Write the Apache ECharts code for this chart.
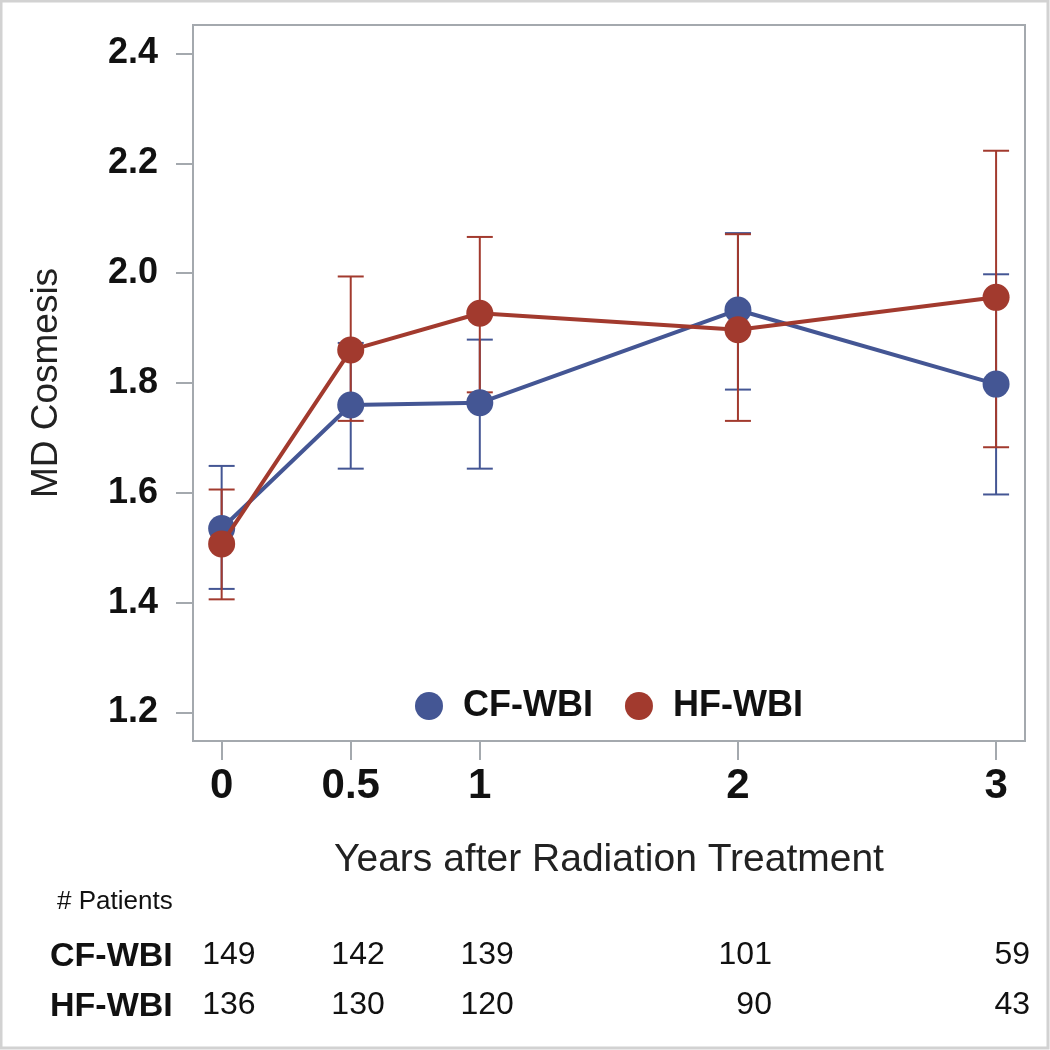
<!DOCTYPE html>
<html>
<head>
<meta charset="utf-8">
<script src="https://cdn.jsdelivr.net/npm/echarts@6/dist/echarts.min.js"></script>
<style>
html,body{margin:0;padding:0;background:#fff;}
#c{width:1050px;height:1050px;}
</style>
</head>
<body>
<div id="c"></div>
<script>
const years = [0, 0.5, 1, 2, 3];
const yTicks = [1.2, 1.4, 1.6, 1.8, 2.0, 2.2, 2.4];
const seriesNames = ['CF-WBI', 'HF-WBI'];
const cfMean = [1.535, 1.760, 1.764, 1.933, 1.798];
const cfLow  = [1.425, 1.644, 1.644, 1.788, 1.597];
const cfHigh = [1.649, 1.873, 1.879, 2.073, 1.998];
const hfMean = [1.507, 1.860, 1.927, 1.897, 1.956];
const hfLow  = [1.406, 1.731, 1.783, 1.731, 1.683];
const hfHigh = [1.606, 1.994, 2.066, 2.071, 2.223];
const cfN = [149, 142, 139, 101, 59];
const hfN = [136, 130, 120, 90, 43];

const BLUE = '#445694', RED = '#A23A2E', FRAME = '#a4a9ae';
const FONT = "'Liberation Sans', Arial, sans-serif";
const XMIN = -0.111, XMAX = 3.112;

const chart = echarts.init(document.getElementById('c'), null, {renderer: 'canvas'});

function errData(low, high) { return years.map((x, i) => [x, low[i], high[i]]); }
function errRender(color) {
  return function (params, api) {
    const x = api.value(0);
    const lo = api.coord([x, api.value(1)]);
    const hi = api.coord([x, api.value(2)]);
    const hw = 13;
    const st = {stroke: color, lineWidth: 2};
    return {type: 'group', children: [
      {type: 'line', shape: {x1: lo[0], y1: lo[1], x2: hi[0], y2: hi[1]}, style: st},
      {type: 'line', shape: {x1: lo[0]-hw, y1: lo[1], x2: lo[0]+hw, y2: lo[1]}, style: st},
      {type: 'line', shape: {x1: hi[0]-hw, y1: hi[1], x2: hi[0]+hw, y2: hi[1]}, style: st}
    ]};
  };
}
function countSeries(counts, gi) {
  return {
    type: 'scatter', xAxisIndex: gi, yAxisIndex: gi, symbolSize: 0,
    itemStyle: {color: '#ffffff', opacity: 1}, silent: true,
    data: years.map((x, i) => [x, 0, counts[i]]),
    label: {show: true, position: 'inside', align: 'right', verticalAlign: 'middle', offset: [34, 0],
      formatter: p => String(p.value[2]), color: '#111111', opacity: 1,
      textBorderWidth: 0, fontFamily: FONT, fontSize: 32}
  };
}
const hiddenX = gi => ({gridIndex: gi, type: 'value', min: XMIN, max: XMAX, show: false});
const hiddenY = gi => ({gridIndex: gi, type: 'value', min: -1, max: 1, show: false});

const option = {
  backgroundColor: '#fff',
  animation: false,
  textStyle: {fontFamily: FONT},
  grid: [
    {left: 193, right: 25, top: 25, bottom: 309, show: true, borderColor: FRAME, borderWidth: 2, backgroundColor: '#fff'},
    {left: 193, right: 25, top: 935, height: 40},
    {left: 193, right: 25, top: 985, height: 40}
  ],
  legend: {
    data: seriesNames, left: 410, top: 683, icon: 'circle', itemWidth: 28, itemHeight: 28, itemGap: 32,
    textStyle: {fontFamily: FONT, fontWeight: 'bold', fontSize: 36, color: '#111', padding: [0, 0, 0, 15]}
  },
  xAxis: [{
    gridIndex: 0, type: 'value', min: XMIN, max: XMAX,
    name: 'Years after Radiation Treatment', nameLocation: 'middle', nameGap: 100,
    nameTextStyle: {fontFamily: FONT, fontSize: 39, color: '#222'},
    axisLine: {show: true, onZero: false, lineStyle: {color: FRAME, width: 2}},
    splitLine: {show: false},
    axisTick: {show: true, length: 19, lineStyle: {color: FRAME, width: 2}, customValues: years},
    axisLabel: {customValues: years, margin: 24, fontFamily: FONT, fontWeight: 'bold', fontSize: 42, color: '#111',
      formatter: v => String(v)}
  }, hiddenX(1), hiddenX(2)],
  yAxis: [{
    gridIndex: 0, type: 'value', min: 1.148, max: 2.452,
    name: 'MD Cosmesis', nameLocation: 'middle', nameGap: 128,
    nameTextStyle: {fontFamily: FONT, fontSize: 37, color: '#222'},
    axisLine: {show: true, onZero: false, lineStyle: {color: FRAME, width: 2}},
    splitLine: {show: false},
    axisTick: {show: true, length: 17, lineStyle: {color: FRAME, width: 2}, customValues: yTicks},
    axisLabel: {customValues: yTicks, margin: 35, fontFamily: FONT, fontWeight: 'bold', fontSize: 36, color: '#111',
      formatter: v => v.toFixed(1)}
  }, hiddenY(1), hiddenY(2)],
  graphic: [
    {type: 'rect', shape: {x: 1, y: 1, width: 1047, height: 1047}, style: {fill: 'none', stroke: '#d2d2d2', lineWidth: 3}, silent: true},
    {type: 'text', left: 57, top: 889, style: {text: '# Patients', fontFamily: FONT, fontSize: 26, fill: '#111'}},
    {type: 'text', left: 50, top: 940, style: {text: 'CF-WBI', fontFamily: FONT, fontWeight: 'bold', fontSize: 34, fill: '#111'}},
    {type: 'text', left: 50, top: 990, style: {text: 'HF-WBI', fontFamily: FONT, fontWeight: 'bold', fontSize: 34, fill: '#111'}}
  ],
  series: [
    {type: 'custom', name: 'CF-WBI err', xAxisIndex: 0, yAxisIndex: 0, z: 1, silent: true,
      renderItem: errRender(BLUE), data: errData(cfLow, cfHigh)},
    {type: 'custom', name: 'HF-WBI err', xAxisIndex: 0, yAxisIndex: 0, z: 1, silent: true,
      renderItem: errRender(RED), data: errData(hfLow, hfHigh)},
    {type: 'line', name: 'CF-WBI', z: 3, data: years.map((x, i) => [x, cfMean[i]]),
      symbol: 'circle', symbolSize: 27, itemStyle: {color: BLUE}, lineStyle: {color: BLUE, width: 4}},
    {type: 'line', name: 'HF-WBI', z: 4, data: years.map((x, i) => [x, hfMean[i]]),
      symbol: 'circle', symbolSize: 27, itemStyle: {color: RED}, lineStyle: {color: RED, width: 4}},
    countSeries(cfN, 1),
    countSeries(hfN, 2)
  ]
};
chart.setOption(option);
</script>
</body>
</html>
